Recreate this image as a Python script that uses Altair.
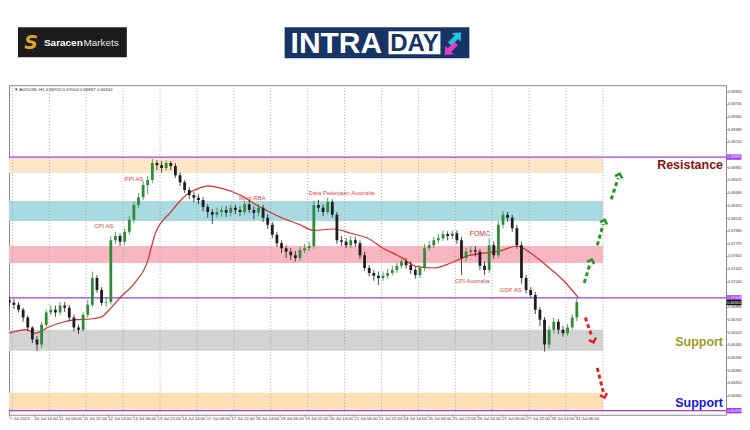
import altair as alt
import pandas as pd

# ---------------- data ----------------
# 3-hour candles; x = hours counted from 7 Jul 2023 22:00 (H1 bar index)
first_open = 0.6698
close = [0.6694,0.6691,0.6684,0.6673,0.6659,0.6642,0.6635,0.6663,0.6680,0.6684,
         0.6680,0.6690,0.6687,0.6673,0.6659,0.6656,0.6677,0.6691,0.6729,0.6712,
         0.6694,0.6695,0.6782,0.6788,0.6780,0.6794,0.6811,0.6832,0.6843,0.6860,
         0.6867,0.6891,0.6888,0.6884,0.6891,0.6887,0.6874,0.6864,0.6853,0.6846,
         0.6842,0.6839,0.6829,0.6822,0.6818,0.6822,0.6825,0.6821,0.6828,0.6825,
         0.6822,0.6833,0.6825,0.6821,0.6828,0.6814,0.6804,0.6790,0.6778,0.6771,
         0.6766,0.6761,0.6757,0.6768,0.6771,0.6774,0.6832,0.6828,0.6822,0.6836,
         0.6818,0.6782,0.6780,0.6775,0.6782,0.6778,0.6761,0.6743,0.6736,0.6732,
         0.6729,0.6732,0.6736,0.6740,0.6746,0.6752,0.6747,0.6740,0.6733,0.6743,
         0.6771,0.6775,0.6782,0.6785,0.6791,0.6788,0.6792,0.6782,0.6757,0.6766,
         0.6768,0.6766,0.6746,0.6740,0.6775,0.6761,0.6804,0.6818,0.6814,0.6799,
         0.6775,0.6729,0.6712,0.6705,0.6684,0.6670,0.6635,0.6656,0.6667,0.6656,
         0.6651,0.6659,0.6673,0.6695]
high = [0.6702,0.6699,0.6695,0.6687,0.6676,0.6661,0.6647,0.6667,0.6684,0.6691,
        0.6690,0.6695,0.6695,0.6691,0.6677,0.6663,0.6681,0.6698,0.6738,0.6733,
        0.6716,0.6701,0.6788,0.6794,0.6792,0.6799,0.6816,0.6836,0.6849,0.6866,
        0.6873,0.6897,0.6895,0.6894,0.6895,0.6894,0.6891,0.6878,0.6867,0.6857,
        0.6850,0.6847,0.6843,0.6833,0.6826,0.6828,0.6830,0.6830,0.6833,0.6832,
        0.6830,0.6838,0.6839,0.6830,0.6833,0.6832,0.6819,0.6808,0.6794,0.6782,
        0.6775,0.6771,0.6767,0.6773,0.6777,0.6780,0.6838,0.6839,0.6833,0.6842,
        0.6840,0.6822,0.6788,0.6785,0.6788,0.6787,0.6782,0.6766,0.6747,0.6740,
        0.6738,0.6738,0.6742,0.6746,0.6750,0.6756,0.6757,0.6752,0.6745,0.6747,
        0.6777,0.6781,0.6787,0.6791,0.6796,0.6795,0.6796,0.6796,0.6787,0.6771,
        0.6774,0.6774,0.6770,0.6752,0.6785,0.6780,0.6809,0.6823,0.6822,0.6818,
        0.6804,0.6780,0.6733,0.6716,0.6709,0.6688,0.6674,0.6661,0.6673,0.6671,
        0.6661,0.6664,0.6678,0.6701]
low = [0.6688,0.6685,0.6680,0.6667,0.6654,0.6637,0.6626,0.6630,0.6660,0.6676,
       0.6674,0.6676,0.6681,0.6668,0.6654,0.6650,0.6653,0.6673,0.6688,0.6708,
       0.6690,0.6688,0.6691,0.6777,0.6774,0.6775,0.6790,0.6806,0.6828,0.6839,
       0.6847,0.6863,0.6881,0.6878,0.6880,0.6881,0.6870,0.6859,0.6849,0.6840,
       0.6836,0.6833,0.6823,0.6814,0.6805,0.6814,0.6816,0.6815,0.6816,0.6819,
       0.6816,0.6818,0.6821,0.6812,0.6816,0.6808,0.6798,0.6785,0.6773,0.6764,
       0.6757,0.6754,0.6752,0.6753,0.6764,0.6767,0.6770,0.6822,0.6816,0.6819,
       0.6814,0.6777,0.6774,0.6771,0.6771,0.6773,0.6756,0.6739,0.6731,0.6725,
       0.6719,0.6725,0.6728,0.6732,0.6736,0.6742,0.6742,0.6735,0.6728,0.6729,
       0.6739,0.6767,0.6771,0.6778,0.6781,0.6782,0.6784,0.6777,0.6733,0.6752,
       0.6760,0.6759,0.6740,0.6733,0.6736,0.6756,0.6757,0.6799,0.6808,0.6794,
       0.6770,0.6721,0.6707,0.6701,0.6678,0.6661,0.6625,0.6630,0.6651,0.6650,
       0.6646,0.6647,0.6656,0.6668]

# moving average (red)
ma_idx = [0,11,17,25,34,43,53,60,65,72,82,89,95,105,115,124,129,137,150,163,
          176,189,198,211,222,233,243,254,265,276,287,298,308,319,330,339,350,360,370]
ma_val = [0.6651,0.6656,0.6651,0.6659,0.6666,0.6670,0.6671,0.6674,0.6684,0.6701,
          0.6723,0.6747,0.6792,0.6822,0.6846,0.6856,0.6859,0.6856,0.6846,0.6829,
          0.6815,0.6804,0.6796,0.6798,0.6792,0.6785,0.6771,0.6759,0.6745,0.6743,
          0.6750,0.6760,0.6764,0.6767,0.6774,0.6764,0.6745,0.6726,0.6701]

day_sep = [2,26,50,74,98,122,146,170,194,218,242,266,290,314,338,362,386]

xtick_idx = [0,16,32,48,64,80,96,112,128,144,160,176,192,208,224,240,256,272,288,304,320,336,352,368]
xtick_lab = ["7 Jul 2023","10 Jul 14:00","11 Jul 06:00","11 Jul 22:00","12 Jul 14:00","13 Jul 06:00",
             "13 Jul 22:00","14 Jul 14:00","17 Jul 06:00","17 Jul 22:00","18 Jul 14:00","19 Jul 06:00",
             "19 Jul 22:00","20 Jul 14:00","21 Jul 06:00","21 Jul 22:00","24 Jul 14:00","25 Jul 06:00",
             "25 Jul 22:00","26 Jul 14:00","27 Jul 06:00","27 Jul 22:00","28 Jul 14:00","31 Jul 06:00"]

ytick_vals = [0.69925,0.69745,0.69565,0.69385,0.69210,0.68850,0.68675,0.68490,0.68315,0.68135,
              0.67955,0.67775,0.67600,0.67420,0.67240,0.66885,0.66705,0.66525,0.66345,
              0.66165,0.65990,0.65810,0.65630]

band_lo = [0.68769, 0.68093, 0.67501, 0.66261, 0.65430]
band_hi = [0.68981, 0.68375, 0.67741, 0.66557, 0.65670]
band_end = 386
band_col = ["#fde7c6", "#a9d9e1", "#f8b7c0", "#d3d3d3", "#fde0b6"]

level_vals = [0.68995, 0.67008, 0.65416]
current_price = 0.66942

event_txt = ["PPI AS", "CPI AS", "Minit RBA", "Data Pekerjaan Australia", "FOMC", "CPI Australia", "GDP AS"]
event_idx = [81, 61.5, 158, 216, 306, 301, 326]
event_px = [0.6868, 0.6802, 0.6842, 0.6849, 0.6791, 0.6725, 0.6712]

zone_txt = ["Resistance", "Support", "Support"]
zone_px = [0.6888, 0.6639, 0.6552]
zone_col = ["#8b1010", "#9c9a1f", "#1616e0"]

up_seg_id = [1, 1, 2, 2, 3, 3]
up_seg_idx = [373.8, 377.7, 382.3, 386.2, 391.4, 395.9]
up_seg_px = [0.6722, 0.6750, 0.6775, 0.6805, 0.6840, 0.6870]
up_head_idx = [378.4, 386.8, 396.6]
up_head_px = [0.6753, 0.6809, 0.6874]

dn_seg_id = [1, 1, 2, 2]
dn_seg_idx = [374.5, 379.0, 382.3, 386.2]
dn_seg_px = [0.6673, 0.6645, 0.6602, 0.6568]
dn_head_idx = [379.6, 386.8]
dn_head_px = [0.6640, 0.6562]

# ---------------- chart ----------------
W, H = 718, 330
XS = alt.Scale(domain=[-0.2, 466.0], nice=False, zero=False, padding=0)
YS = alt.Scale(domain=[0.65359, 0.70010], nice=False, zero=False, padding=0)

lab_expr = "[" + ",".join("'%s'" % s for s in xtick_lab) + "][indexof([" + \
    ",".join(str(v) for v in xtick_idx) + "], datum.value)]"

AX = alt.Axis(values=xtick_idx, labelExpr=lab_expr, labelAlign="left", labelFontSize=4.3,
              labelColor="#333333", tickSize=1.5, tickColor="#777777", labelPadding=0,
              domain=False, grid=False, title=None, labelOverlap=False,
              labelFont="Liberation Sans", labelBaseline="top")
AY = alt.Axis(orient="right", values=ytick_vals, format=".5f", labelFontSize=3.8,
              labelColor="#333333", tickSize=1, tickColor="#777777", labelPadding=0.5,
              domain=False, grid=False, title=None, labelOverlap=False,
              labelFont="Liberation Sans")

n = min(len(close), len(high), len(low))
opens = [first_open] + close[:n - 1]
cdf = pd.DataFrame({
    "idx": [3 * k for k in range(n)],
    "open": opens[:n], "high": high[:n], "low": low[:n], "close": close[:n],
})
cdf["dir"] = ["up" if c >= o else "dn" for o, c in zip(cdf["open"], cdf["close"])]
ccol = alt.Color("dir:N", scale=alt.Scale(domain=["up", "dn"], range=["#2f8a3b", "#1e1e1e"]), legend=None)

bands = alt.Chart(pd.DataFrame({"x0": [-0.2] * 5, "x1": [band_end] * 5, "lo": band_lo,
                                "hi": band_hi, "col": band_col})).mark_rect().encode(
    x=alt.X("x0:Q", scale=XS, axis=AX), x2="x1", y=alt.Y("lo:Q", scale=YS, axis=AY), y2="hi",
    color=alt.Color("col:N", scale=None))

seps = alt.Chart(pd.DataFrame({"d": day_sep})).mark_rule(
    color="#9a9a9a", strokeWidth=0.8, strokeDash=[1, 2]).encode(
    x=alt.X("d:Q", scale=XS, axis=AX))

levels = alt.Chart(pd.DataFrame({"v": level_vals})).mark_rule(
    color="#9d3cf0", strokeWidth=1.3).encode(y=alt.Y("v:Q", scale=YS, axis=AY))

ma = alt.Chart(pd.DataFrame({"i": ma_idx, "v": ma_val})).mark_line(
    color="#d6302b", strokeWidth=1.2, interpolate="monotone", clip=True).encode(
    x=alt.X("i:Q", scale=XS, axis=AX), y=alt.Y("v:Q", scale=YS, axis=AY))

wicks = alt.Chart(cdf).mark_rule(strokeWidth=0.8, clip=True).encode(
    x=alt.X("idx:Q", scale=XS, axis=AX), y=alt.Y("low:Q", scale=YS, axis=AY), y2="high",
    color=ccol)
bodies = alt.Chart(cdf).mark_bar(size=2.8, clip=True).encode(
    x=alt.X("idx:Q", scale=XS, axis=AX), y=alt.Y("open:Q", scale=YS, axis=AY), y2="close",
    color=ccol)

ev_fs = [7 if t == "FOMC" else 6 for t in event_txt]
ev_col = ["#d22f2f" if t == "FOMC" else "#e2493f" for t in event_txt]
events = alt.Chart(pd.DataFrame({"t": event_txt, "i": event_idx, "p": event_px,
                                 "fs": ev_fs, "c": ev_col})).mark_text(
    font="Liberation Sans", baseline="middle").encode(
    x=alt.X("i:Q", scale=XS, axis=AX), y=alt.Y("p:Q", scale=YS, axis=AY), text="t:N",
    size=alt.Size("fs:Q", scale=None), color=alt.Color("c:N", scale=None))

zones = alt.Chart(pd.DataFrame({"t": zone_txt, "p": zone_px, "c": zone_col})).mark_text(
    font="Liberation Sans", fontWeight="bold", fontSize=12.5, align="right", baseline="middle").encode(
    x=alt.value(715), y=alt.Y("p:Q", scale=YS, axis=AY), text="t:N",
    color=alt.Color("c:N", scale=None))

up_lines = alt.Chart(pd.DataFrame({"g": up_seg_id, "i": up_seg_idx, "p": up_seg_px})).mark_line(
    color="#1e9a24", strokeWidth=3, strokeDash=[4, 3]).encode(
    x=alt.X("i:Q", scale=XS, axis=AX), y=alt.Y("p:Q", scale=YS, axis=AY), detail="g:N")
up_heads = alt.Chart(pd.DataFrame({"i": up_head_idx, "p": up_head_px})).mark_point(
    shape="M -1 0.6 L 0 -0.4 L 1 0.6", filled=False, strokeWidth=2.5, size=55, angle=17,
    color="#1e9a24", opacity=1).encode(
    x=alt.X("i:Q", scale=XS, axis=AX), y=alt.Y("p:Q", scale=YS, axis=AY))
dn_lines = alt.Chart(pd.DataFrame({"g": dn_seg_id, "i": dn_seg_idx, "p": dn_seg_px})).mark_line(
    color="#e32222", strokeWidth=3, strokeDash=[4, 3]).encode(
    x=alt.X("i:Q", scale=XS, axis=AX), y=alt.Y("p:Q", scale=YS, axis=AY), detail="g:N")
dn_heads = alt.Chart(pd.DataFrame({"i": dn_head_idx, "p": dn_head_px})).mark_point(
    shape="M -1 0.6 L 0 -0.4 L 1 0.6", filled=False, strokeWidth=2.5, size=55, angle=161,
    color="#e32222", opacity=1).encode(
    x=alt.X("i:Q", scale=XS, axis=AX), y=alt.Y("p:Q", scale=YS, axis=AY))

# price-scale labels (boxes)
box_vals = level_vals + [current_price]
box_col = ["#9d3cf0", "#9d3cf0", "#9d3cf0", "#111111"]
bdf = pd.DataFrame({"v": box_vals, "lo": [v - 0.00038 for v in box_vals],
                    "hi": [v + 0.00038 for v in box_vals], "c": box_col,
                    "t": ["%.5f" % v for v in box_vals]})
boxes = alt.Chart(bdf).mark_rect().encode(
    x=alt.value(718.5), x2=alt.value(733.5), y=alt.Y("lo:Q", scale=YS, axis=AY), y2="hi",
    color=alt.Color("c:N", scale=None))
box_txt = alt.Chart(bdf).mark_text(font="Liberation Sans", fontSize=3.8, color="white",
                                   align="left", baseline="middle").encode(
    x=alt.value(719.3), y=alt.Y("v:Q", scale=YS, axis=AY), text="t:N")

legend_txt = alt.Chart(pd.DataFrame({"t": ["\u25bc AUDUSD,H1  0.66920 0.67004 0.66887 0.66942"]})).mark_text(
    font="Liberation Sans", fontSize=4.4, color="#333333", align="left", baseline="middle").encode(
    x=alt.value(5), y=alt.value(5), text="t:N")

# ---- logos (header) ----
one = pd.DataFrame({"a": [0]})
sar_box = alt.Chart(one).mark_rect(color="#1c1c1c").encode(
    x=alt.value(9), x2=alt.value(118), y=alt.value(-58), y2=alt.value(-28))
sar_s = alt.Chart(one).mark_text(text="S", font="DejaVu Sans", fontWeight="bold", fontStyle="italic",
                                 fontSize=19, color="#dea42a", baseline="middle", align="center").encode(
    x=alt.value(22), y=alt.value(-42))
sar_t1 = alt.Chart(one).mark_text(text="Saracen", font="Liberation Sans", fontWeight="bold",
                                  fontSize=10, color="white", baseline="middle", align="left").encode(
    x=alt.value(35), y=alt.value(-42))
sar_t2 = alt.Chart(one).mark_text(text="Markets", font="Liberation Sans", fontSize=10,
                                  color="#e8e8e8", baseline="middle", align="left").encode(
    x=alt.value(74.5), y=alt.value(-42))
intra_box = alt.Chart(one).mark_rect(color="#163566").encode(
    x=alt.value(276), x2=alt.value(461), y=alt.value(-58), y2=alt.value(-27))
day_box = alt.Chart(one).mark_rect(color="white").encode(
    x=alt.value(380), x2=alt.value(432), y=alt.value(-54), y2=alt.value(-31))
intra_t = alt.Chart(one).mark_text(text="INTRA", font="Liberation Sans", fontWeight="bold",
                                   fontSize=30, color="white", baseline="middle", align="left").encode(
    x=alt.value(282), y=alt.value(-41.5))
day_t = alt.Chart(one).mark_text(text="DAY", font="Liberation Sans", fontWeight="bold",
                                 fontSize=24, color="#163566", baseline="middle", align="center").encode(
    x=alt.value(406), y=alt.value(-41.5))
ARROW = "M 0 -1 L 0.75 -0.15 L 0.3 -0.15 L 0.3 1 L -0.3 1 L -0.3 -0.15 L -0.75 -0.15 Z"
arr_c = alt.Chart(one).mark_point(shape=ARROW, filled=True, size=260, angle=45, color="#22c6d6",
                                  opacity=1).encode(x=alt.value(447), y=alt.value(-47))
arr_m = alt.Chart(one).mark_point(shape=ARROW, filled=True, size=260, angle=225, color="#e23ec4",
                                  opacity=1).encode(x=alt.value(442), y=alt.value(-36))

chart = alt.layer(
    bands, seps, levels, ma, wicks, bodies, events, zones,
    up_lines, up_heads, dn_lines, dn_heads, boxes, box_txt, legend_txt,
    sar_box, sar_s, sar_t1, sar_t2, intra_box, day_box, intra_t, day_t, arr_c, arr_m
).properties(
    width=W, height=H,
    padding={"top": 19, "left": 0, "right": 0, "bottom": 0}
).configure_view(stroke="#8a8a8a", strokeWidth=1)

chart.save("out.html", embed_options={"renderer": "svg", "actions": False})
